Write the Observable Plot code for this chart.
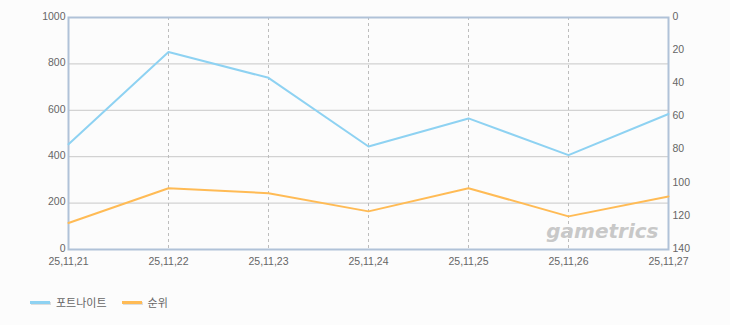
<!DOCTYPE html>
<html>
<head>
<meta charset="utf-8">
<script src="https://cdn.jsdelivr.net/npm/d3@7"></script>
<script src="https://cdn.jsdelivr.net/npm/@observablehq/plot@0.6"></script>
<style>
  html, body { margin: 0; padding: 0; background: #fcfcfc; }
  #chart { width: 730px; }
  .legend { display: flex; align-items: center; margin-top: 22px; margin-left: 30px; font: 11px "Noto Sans CJK KR", "DejaVu Sans", sans-serif; color: #666; }
  .item { display: flex; align-items: center; margin-right: 15px; }
  .sw { width: 20px; height: 3px; margin-right: 6px; box-shadow: 1px 1px 0 #ddd; }
</style>
</head>
<body>
<div id="chart"></div>
<script>
const dates = ["25,11,21", "25,11,22", "25,11,23", "25,11,24", "25,11,25", "25,11,26", "25,11,27"];
const fortnite = [454, 851, 740, 444, 565, 407, 584];
const rank = [124, 103, 106, 117, 103, 120, 108];
const leftTicks = [0, 200, 400, 600, 800, 1000];
const rightTicks = [0, 20, 40, 60, 80, 100, 120, 140];
const seriesNames = ["포트나이트", "순위"];
const colors = ["#8ed2f2", "#ffbb55"];

const rankMax = 140, leftMax = 1000;
const toLeft = r => leftMax * (1 - r / rankMax);
const rows = dates.map((d, i) => ({date: d, f: fortnite[i], r: rank[i]}));

const chart = Plot.plot({
  width: 730,
  height: 272,
  marginLeft: 68,
  marginRight: 62,
  marginTop: 17,
  marginBottom: 23,
  style: {background: "transparent", fontFamily: "'Liberation Sans', Arial, sans-serif", fontSize: "10.5px", color: "#666"},
  x: {type: "point", domain: dates, padding: 0},
  y: {domain: [0, leftMax]},
  marks: [
    Plot.rect([0], {x1: dates[0], x2: dates[dates.length - 1], y1: 0, y2: leftMax, fill: "#fdfdfd"}),
    Plot.gridY(leftTicks.slice(1, -1), {stroke: "#c8c8c8", strokeOpacity: 1}),
    Plot.gridX(dates.slice(1, -1), {stroke: "#bdbdbd", strokeOpacity: 1, strokeDasharray: "3,3"}),
    Plot.frame({stroke: "#b0c2d8", strokeWidth: 2}),
    Plot.text([0], {frameAnchor: "bottom-right", text: () => "gametrics", dx: -10, dy: -12, fontSize: 20, fontStyle: "italic", fontWeight: "bold", fill: "#c8c8c8", fontFamily: "'DejaVu Sans', sans-serif"}),
    Plot.line(rows, {x: "date", y: "f", stroke: colors[0], strokeWidth: 2}),
    Plot.line(rows, {x: "date", y: d => toLeft(d.r), stroke: colors[1], strokeWidth: 2}),
    Plot.axisY(leftTicks, {anchor: "left", tickSize: 0, tickPadding: 3, fill: "#666", label: null, tickFormat: d => String(d), dy: -1}),
    Plot.axisY(rightTicks.map(toLeft), {anchor: "right", tickSize: 0, tickPadding: 4, fill: "#666", label: null, dy: -1,
      tickFormat: v => String(Math.round(rankMax * (1 - v / leftMax)))}),
    Plot.axisX(dates, {tickSize: 0, tickPadding: 8, fill: "#666", label: null})
  ]
});
document.getElementById("chart").appendChild(chart);

const legend = document.createElement("div");
legend.className = "legend";
seriesNames.forEach((n, i) => {
  const it = document.createElement("div");
  it.className = "item";
  const sw = document.createElement("span");
  sw.className = "sw";
  sw.style.background = colors[i];
  const t = document.createElement("span");
  t.textContent = n;
  it.appendChild(sw); it.appendChild(t);
  legend.appendChild(it);
});
document.getElementById("chart").appendChild(legend);
</script>
</body>
</html>
